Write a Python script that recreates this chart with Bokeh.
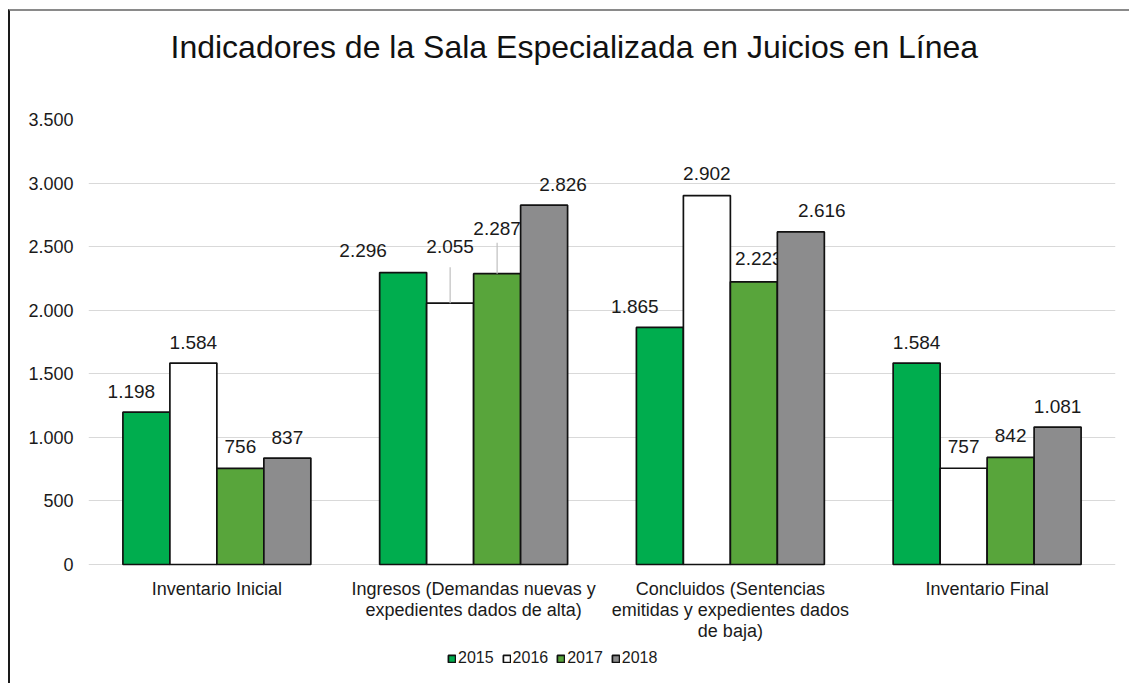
from bokeh.plotting import figure
from bokeh.models import ColumnDataSource, FactorRange, Range1d, Legend, LegendItem, FixedTicker
from bokeh.transform import dodge
from bokeh.core.properties import value
from bokeh.embed import file_html
from bokeh.resources import INLINE

# ---------------- data ----------------
categories = [
    "Inventario Inicial",
    "Ingresos (Demandas nuevas y\nexpedientes dados de alta)",
    "Concluidos (Sentencias\nemitidas y expedientes dados\nde baja)",
    "Inventario Final",
]
years = ["2015", "2016", "2017", "2018"]
v2015 = [1198, 2296, 1865, 1584]
v2016 = [1584, 2055, 2902, 757]
v2017 = [756, 2287, 2223, 842]
v2018 = [837, 2826, 2616, 1081]
y_ticks = [0, 500, 1000, 1500, 2000, 2500, 3000, 3500]
y_tick_labels = ["0", "500", "1.000", "1.500", "2.000", "2.500", "3.000", "3.500"]
title_text = "Indicadores de la Sala Especializada en Juicios en Línea"

# ---------------- styles ----------------
colors = ["#00AD4E", "#FFFFFF", "#58A53B", "#8C8C8D"]
# label placement tweaks (px) per series, per category
label_dx = [[-15, -40, -25, 0], [0, 0, 0, 0], [0, 0, 5, 0], [0, 19, 21, 0]]
label_dy = [[21, 22, 21, 21], [21, 57, 22, 22], [22, 45, 23, 22], [21, 21, 21, 21]]
leader_px = [[0, 0, 0, 0], [0, 36, 0, 0], [0, 31, 0, 0], [0, 0, 0, 0]]

FONT = "Liberation Sans"
W, H = 1121, 674
MB_L, MB_R, MB_T = 78, 16, 108
DATA_PX = 445                      # pixel height of the 0..3500 value band
y_max = 3500
ppu = DATA_PX / y_max
y_min = -(H - MB_T - DATA_PX) / ppu   # room under the axis for labels + legend

p = figure(
    x_range=FactorRange(*categories, range_padding=0.0),
    y_range=Range1d(y_min, y_max),
    width=W, height=H,
    output_backend="svg", toolbar_location=None,
    min_border_left=MB_L, min_border_right=MB_R,
    min_border_top=MB_T, min_border_bottom=0,
)
p.styles = {"margin-left": "8px", "margin-top": "9px",
            "border-left": "2px solid #1a1a1a", "border-top": "2px solid #8a8a8a"}
p.outline_line_color = None
p.background_fill_color = "white"
p.border_fill_color = "white"

p.title.text = title_text + "\n "
p.title.text_font = FONT
p.title.text_font_size = "32px"
p.title.text_font_style = "normal"
p.title.text_color = "#111111"
p.title.text_line_height = 1.15
p.title.align = "left"
p.title.vertical_align = "top"
p.title.offset = 82
p.title.standoff = 24

bw = 0.183
offsets = [-1.5 * bw, -0.5 * bw, 0.5 * bw, 1.5 * bw]
series = [v2015, v2016, v2017, v2018]

items = []
for i, (yr, vals) in enumerate(zip(years, series)):
    labels = [f"{v:,}".replace(",", ".") for v in vals]
    src = ColumnDataSource(dict(
        cat=categories, val=vals, lab=labels,
        dx=label_dx[i], dy=[-d for d in label_dy[i]],
        lead_top=[v + lp / ppu for v, lp in zip(vals, leader_px[i])],
    ))
    xd = dodge("cat", offsets[i], range=p.x_range)
    r = p.vbar(x=xd, top="val", bottom=0, width=bw, source=src,
               fill_color=colors[i], line_color="#111111", line_width=1.7)
    items.append(LegendItem(label=yr, renderers=[r]))
    p.segment(x0=xd, y0="val", x1=xd, y1="lead_top", source=src,
              line_color="#BFBFBF", line_width=1.2)
    p.text(x=xd, y="val", text="lab", source=src, x_offset="dx", y_offset="dy",
           text_font=value(FONT), text_font_size="19px", text_color="#1a1a1a",
           text_align="center", text_baseline="middle")

# category labels under the value axis
cat_src = ColumnDataSource(dict(cat=categories, y0=[0] * len(categories)))
p.text(x="cat", y="y0", text="cat", source=cat_src, y_offset=14,
       text_font=value(FONT), text_font_size="18px", text_color="#1a1a1a",
       text_align="center", text_baseline="top", text_line_height=1.05)

# axes
p.xaxis.visible = False
p.yaxis.ticker = FixedTicker(ticks=y_ticks)
p.yaxis.major_label_overrides = {t: l for t, l in zip(y_ticks, y_tick_labels)}
p.yaxis.axis_line_color = None
p.yaxis.major_tick_line_color = None
p.yaxis.minor_tick_line_color = None
p.yaxis.major_label_text_font = FONT
p.yaxis.major_label_text_font_size = "18px"
p.yaxis.major_label_text_color = "#1a1a1a"
p.yaxis.major_label_standoff = 9

p.xgrid.grid_line_color = None
p.ygrid.ticker = FixedTicker(ticks=y_ticks)
p.ygrid.grid_line_color = "#D9D9D9"
p.ygrid.grid_line_width = 1

legend = Legend(items=items, orientation="horizontal", location=(359, 18),
                label_text_font=FONT, label_text_font_size="16px",
                label_text_color="#1a1a1a", glyph_width=9, glyph_height=9,
                label_standoff=2, spacing=8, padding=0, margin=0,
                border_line_color=None, background_fill_alpha=0)
p.add_layout(legend, "center")

open("out.html", "w").write(file_html(p, INLINE))
